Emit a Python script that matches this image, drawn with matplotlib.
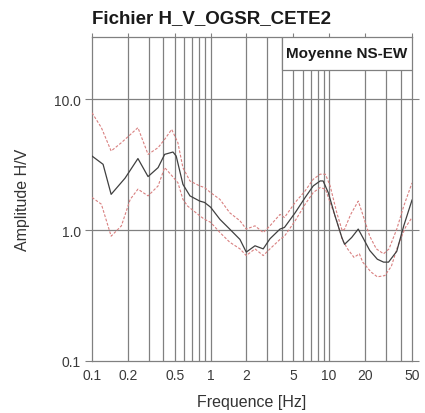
import matplotlib
matplotlib.use("Agg")
import matplotlib.pyplot as plt
from matplotlib.patches import Rectangle
from matplotlib.ticker import FixedLocator, NullLocator

plt.rcParams['font.family'] = ['Liberation Sans', 'DejaVu Sans']

# mean H/V curve
f_mean = [0.1, 0.124, 0.145, 0.19, 0.244, 0.297, 0.361, 0.41, 0.482, 0.513, 0.585,
          0.67, 0.81, 0.89, 1.0, 1.2, 1.45, 1.77, 2.0, 2.37, 2.78, 3.17, 3.85, 4.2,
          5.17, 6.28, 7.34, 8.4, 8.9, 9.83, 11.2, 12.8, 13.5, 15.5, 17.6, 19.5, 22.0,
          25.5, 28.8, 31.7, 37.2, 42.6, 50.0]
a_mean = [3.69, 3.19, 1.88, 2.5, 3.53, 2.57, 3.01, 3.8, 3.96, 3.69, 2.24,
          1.83, 1.67, 1.63, 1.5, 1.21, 1.02, 0.85, 0.68, 0.76, 0.72, 0.86, 1.02, 1.05,
          1.36, 1.78, 2.18, 2.38, 2.38, 1.94, 1.29, 0.88, 0.78, 0.88, 1.02, 0.86, 0.7,
          0.6, 0.57, 0.57, 0.69, 1.08, 1.7]

# mean + std
f_up = [0.1, 0.12, 0.145, 0.177, 0.244, 0.297, 0.361, 0.41, 0.47, 0.53, 0.585,
        0.67, 0.81, 0.89, 1.0, 1.2, 1.45, 1.77, 2.0, 2.37, 2.78, 3.17, 3.85, 4.2,
        5.17, 6.28, 7.34, 8.4, 9.3, 10.2, 11.6, 12.9, 13.5, 15.2, 17.6, 19.0, 22.0,
        25.0, 28.8, 32.0, 37.2, 42.6, 50.0]
a_up = [7.9, 6.08, 4.03, 4.67, 6.08, 3.8, 4.28, 4.95, 5.9, 4.67, 3.0,
        2.38, 2.18, 2.12, 1.94, 1.72, 1.36, 1.18, 1.02, 1.08, 0.96, 1.08, 1.32, 1.25,
        1.63, 2.0, 2.45, 2.68, 2.68, 2.18, 1.36, 0.99, 1.02, 1.32, 1.67, 1.36, 0.9,
        0.72, 0.66, 0.72, 1.02, 1.53, 2.3]

# mean - std
f_low = [0.1, 0.12, 0.145, 0.177, 0.21, 0.244, 0.297, 0.361, 0.41, 0.46, 0.53, 0.585,
         0.64, 0.81, 0.89, 1.0, 1.2, 1.45, 1.77, 2.0, 2.37, 2.78, 3.17, 3.85, 4.2,
         5.17, 6.28, 7.34, 8.4, 9.3, 10.2, 11.6, 12.9, 14.3, 16.2, 18.0, 19.2, 22.5,
         25.5, 29.5, 33.5, 38.0, 44.0, 50.0]
a_low = [1.78, 1.58, 0.9, 1.08, 1.72, 2.06, 1.83, 2.18, 3.01, 2.68, 2.31, 1.72,
         1.53, 1.29, 1.21, 1.15, 0.96, 0.81, 0.72, 0.64, 0.72, 0.64, 0.72, 0.85, 0.9,
         1.18, 1.58, 1.94, 2.12, 2.06, 1.63, 1.18, 0.85, 0.72, 0.62, 0.66, 0.57, 0.48,
         0.44, 0.45, 0.53, 0.76, 1.05, 1.25]

x_major = [0.1, 0.2, 0.5, 1, 2, 5, 10, 20, 50]
x_labels = ['0.1', '0.2', '0.5', '1', '2', '5', '10', '20', '50']
x_grid = [0.2, 0.3, 0.4, 0.5, 0.6, 0.7, 0.8, 0.9, 1, 2, 3, 4, 5, 6, 7, 8, 9, 10,
          20, 30, 40]
y_major = [0.1, 1.0, 10.0]
y_labels = ['0.1', '1.0', '10.0']

fig = plt.figure(figsize=(4.25, 4.14), dpi=100)
ax = fig.add_axes([92/425, 52/414, 320/425, 324/414])

grid_col = '#808080'
for xv in x_grid:
    ax.axvline(xv, color=grid_col, lw=0.9, zorder=1)
for yv in [1.0, 10.0]:
    ax.axhline(yv, color=grid_col, lw=0.9, zorder=1)

ax.plot(f_up, a_up, color='#d98080', lw=0.8, ls=(0, (2.5, 1.5)), zorder=3)
ax.plot(f_low, a_low, color='#d98080', lw=0.8, ls=(0, (2.5, 1.5)), zorder=3)
ax.plot(f_mean, a_mean, color='#404040', lw=0.9, zorder=4)

ax.set_xscale('log')
ax.set_yscale('log')
ax.set_xlim(0.1, 50)
ax.set_ylim(0.1, 30)

ax.xaxis.set_major_locator(FixedLocator(x_major))
ax.set_xticklabels(x_labels)
ax.xaxis.set_minor_locator(NullLocator())
ax.yaxis.set_major_locator(FixedLocator(y_major))
ax.set_yticklabels(y_labels)
ax.yaxis.set_minor_locator(NullLocator())

ax.tick_params(axis='x', which='major', top=True, bottom=False, direction='out',
               length=3, color=grid_col, labelsize=10, pad=2, labelcolor='#3a3a3a')
ax.tick_params(axis='y', which='major', left=True, right=True, direction='out',
               length=5, color=grid_col, labelsize=10, pad=3, labelcolor='#3a3a3a')

for s in ax.spines.values():
    s.set_color(grid_col)
    s.set_linewidth(0.9)

ax.set_title('Fichier H_V_OGSR_CETE2', loc='left', fontsize=13.5,
             fontweight='bold', pad=11, color='#1a1a1a')
ax.set_xlabel('Frequence [Hz]', fontsize=11.5, labelpad=9, color='#333333')
ax.set_ylabel('Amplitude H/V', fontsize=11.5, labelpad=17, color='#333333')

# legend box anchored in the top right corner
ax.add_patch(Rectangle((0.594, 0.899), 0.406, 0.101, transform=ax.transAxes,
                       fc='white', ec=grid_col, lw=0.9, zorder=6))
ax.text(0.797, 0.9495, 'Moyenne NS-EW', transform=ax.transAxes, ha='center',
        va='center', fontsize=11, fontweight='bold', color='#1a1a1a', zorder=7)

fig.savefig('out.png', dpi=100)
